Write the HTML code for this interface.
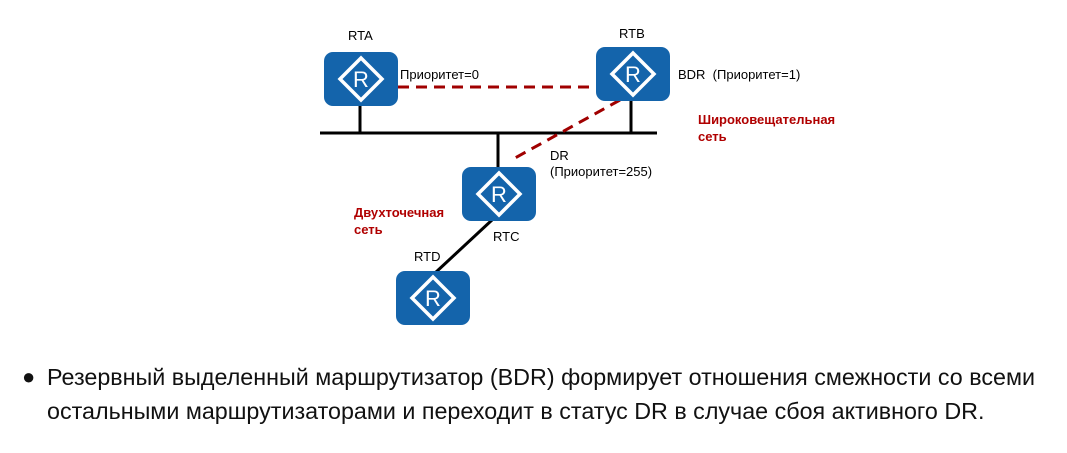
<!DOCTYPE html>
<html><head><meta charset="utf-8"><style>
body{margin:0;background:#fff;width:1067px;height:453px;overflow:hidden;position:relative;font-family:"Liberation Sans",sans-serif}
.t{position:absolute;font-size:13px;color:#000;white-space:nowrap}
.r{position:absolute;font-size:13px;color:#b00000;font-weight:bold;line-height:17px}
.p{position:absolute;left:47px;font-size:23.3px;color:#111;white-space:nowrap}
</style></head><body>
<svg width="1067" height="453" style="position:absolute;left:0;top:0">
<defs>
<g id="rt">
<rect x="0" y="0" width="74" height="54" rx="9" fill="#1464ab"/>
<polygon points="37,6 58,27 37,48 16,27" fill="none" stroke="#fff" stroke-width="3.5"/>
<text x="37" y="35" font-family="Liberation Sans" font-size="22" fill="#fff" text-anchor="middle">R</text>
</g>
</defs>
<line x1="320" y1="133" x2="657" y2="133" stroke="#000" stroke-width="3"/>
<line x1="360" y1="106" x2="360" y2="133" stroke="#000" stroke-width="3"/>
<line x1="631" y1="100" x2="631" y2="133" stroke="#000" stroke-width="3"/>
<line x1="498" y1="133" x2="498" y2="167" stroke="#000" stroke-width="3"/>
<line x1="435" y1="273" x2="492" y2="220" stroke="#000" stroke-width="3"/>
<line x1="398" y1="87" x2="596" y2="87" stroke="#a00000" stroke-width="3" stroke-dasharray="11,7"/>
<line x1="620" y1="100" x2="515" y2="158" stroke="#a00000" stroke-width="3" stroke-dasharray="11,7"/>
<use href="#rt" x="324" y="52"/>
<use href="#rt" x="596" y="47"/>
<use href="#rt" x="462" y="167"/>
<use href="#rt" x="396" y="271"/>
</svg>
<div class="t" style="left:348px;top:28px">RTA</div>
<div class="t" style="left:619px;top:26px">RTB</div>
<div class="t" style="left:493px;top:229px">RTC</div>
<div class="t" style="left:414px;top:249px">RTD</div>
<div class="t" style="left:400px;top:67px">Приоритет=0</div>
<div class="t" style="left:678px;top:67px">BDR&nbsp;&nbsp;(Приоритет=1)</div>
<div class="t" style="left:550px;top:148px;line-height:16px">DR<br>(Приоритет=255)</div>
<div class="r" style="left:698px;top:111px">Широковещательная<br>сеть</div>
<div class="r" style="left:354px;top:204px">Двухточечная<br>сеть</div>
<div style="position:absolute;left:22px;top:364px;font-size:22px;color:#111">●</div>
<div class="p" style="top:364px;width:988px;text-align:justify;text-align-last:justify;white-space:normal">Резервный выделенный маршрутизатор (BDR) формирует отношения смежности со всеми</div>
<div class="p" style="top:398px">остальными маршрутизаторами и переходит в статус DR в случае сбоя активного DR.</div>
</body></html>
